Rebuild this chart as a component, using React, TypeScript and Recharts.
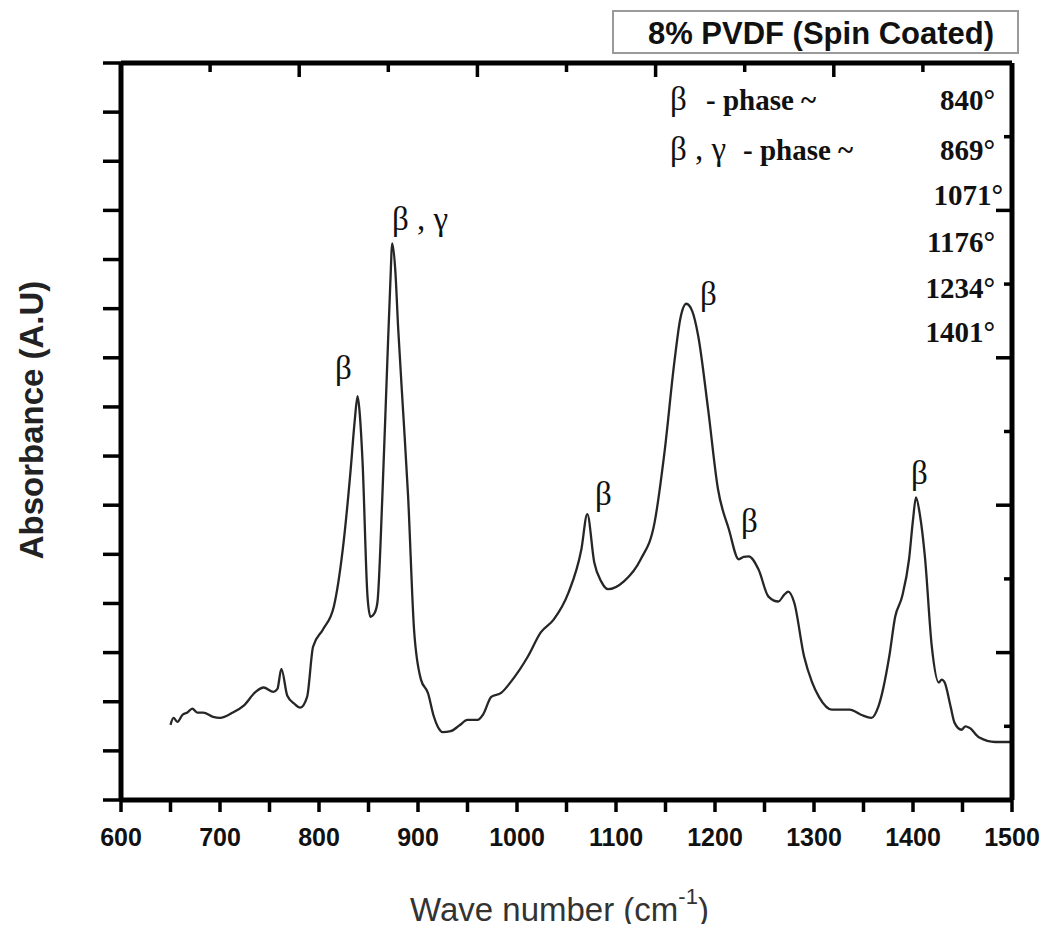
import React from 'react'
import { LineChart, Line, XAxis, YAxis } from 'recharts'

// FTIR spectrum
const waveNumber = [
  650, 653, 657, 662, 667, 672, 677, 683, 693, 700,
  713, 724, 736, 744, 754, 758, 762, 768, 775, 781,
  788, 794, 804, 815, 824, 832, 836, 839, 841, 844,
  849, 852, 856, 859, 864, 869, 872, 874, 877, 880,
  885, 890, 896, 903, 910, 916, 920, 925, 933, 942,
  950, 960, 966, 974, 984, 994, 1011, 1024, 1037, 1052,
  1065, 1071, 1078, 1085, 1092, 1108, 1125, 1139, 1149, 1159,
  1165, 1171, 1177, 1183, 1193, 1203, 1214, 1224, 1229, 1234,
  1244, 1254, 1264, 1270, 1274, 1280, 1290, 1298, 1305, 1318,
  1336, 1348, 1358, 1365, 1376, 1382, 1389, 1396, 1400, 1403,
  1407, 1412, 1419, 1426, 1429, 1432, 1438, 1442, 1449, 1453,
  1457, 1467, 1483, 1500
]

const absorbance = [
  1.53, 1.67, 1.59, 1.73, 1.78, 1.86, 1.78, 1.78, 1.69, 1.67,
  1.78, 1.92, 2.2, 2.29, 2.2, 2.26, 2.67, 2.12, 1.96, 1.88,
  2.1, 3.12, 3.47, 3.94, 5.1, 6.73, 7.7, 8.22, 7.9, 6.88,
  4.14, 3.73, 3.8, 4.02, 6.18, 8.92, 10.5, 11.33, 10.8, 9.59,
  7.9, 6.18, 3.47, 2.45, 2.18, 1.7, 1.49, 1.38, 1.4, 1.52,
  1.63, 1.63, 1.75, 2.1, 2.18, 2.41, 2.92, 3.41, 3.67, 4.22,
  5.1, 5.82, 4.84, 4.45, 4.29, 4.45, 4.9, 5.65, 7.08, 8.92,
  9.8, 10.1, 9.95, 9.45, 7.96, 6.33, 5.51, 4.9, 4.95, 4.96,
  4.69, 4.14, 4.04, 4.18, 4.24, 4.02, 2.92, 2.4, 2.1, 1.84,
  1.84, 1.73, 1.67, 1.9, 2.92, 3.73, 4.14, 4.9, 5.7, 6.16,
  5.8, 4.96, 3.12, 2.39, 2.45, 2.39, 1.9, 1.57, 1.43, 1.5,
  1.47, 1.27, 1.18, 1.18
]

const bottomTicks = [600, 650, 700, 750, 800, 850, 900, 950, 1000, 1050, 1100, 1150, 1200, 1250, 1300, 1350, 1400, 1450, 1500]
const topMajorTicks = [600, 780, 960, 1140, 1320, 1500]
const topMinorTicks = [690, 870, 1050, 1230, 1410]
const leftTicks = [0, 1, 2, 3, 4, 5, 6, 7, 8, 9, 10, 11, 12, 13, 14, 15]
const rightMajorTicks = [0, 2, 4, 6, 8, 10]
const rightMinorTicks = [1, 3, 5, 7, 9]
const peakPositions = ['840°', '869°', '1071°', '1176°', '1234°', '1401°']

const chartData = waveNumber.map((wn, i) => ({ wn, abs: absorbance[i] }))

const SANS = '"Liberation Sans", Arial, sans-serif'
const SERIF = '"Liberation Serif", "Times New Roman", serif'

const BottomTick = ({ x, y, payload }: any) =>
  payload.value % 100 === 0 ? (
    <text x={x} y={y} dy={26} textAnchor='middle' fontFamily={SANS} fontWeight='bold' fontSize={25} fill='#111'>
      {payload.value}
    </text>
  ) : (
    <g />
  )

const NoTick = () => <g />

const axisLine = { stroke: '#000', strokeWidth: 5 }
const tickLine = { stroke: '#000', strokeWidth: 3.5 }

export default function App() {
  const beta = { fontFamily: SERIF, fontSize: 33, fill: '#111' }
  const note = { fontFamily: SERIF, fontSize: 29, fontWeight: 'bold' as const, fill: '#111' }
  // right column: baseline y and right edge x for each band
  const rowY = [110, 160, 205, 252, 298, 342]
  const rowX = [995, 995, 1003, 995, 995, 995]

  return (
    <div style={{ position: 'relative', margin: -8, width: 1052, height: 932, background: '#fff' }}>
      <LineChart width={1052} height={932} data={chartData} margin={{ top: 63, right: 40, bottom: 72, left: 101 }}>
        <XAxis
          xAxisId='bottom'
          dataKey='wn'
          type='number'
          domain={[600, 1500]}
          ticks={bottomTicks}
          interval={0}
          height={60}
          axisLine={axisLine}
          tickLine={tickLine}
          tickSize={12}
          tickMargin={8}
          tick={<BottomTick />}
        />
        <XAxis
          xAxisId='topMajor'
          dataKey='wn'
          orientation='top'
          type='number'
          domain={[600, 1500]}
          allowDataOverflow
          ticks={topMajorTicks}
          interval={0}
          height={1}
          mirror
          axisLine={axisLine}
          tickLine={tickLine}
          tickSize={14}
          tick={<NoTick />}
        />
        <XAxis
          xAxisId='topMinor'
          dataKey='wn'
          orientation='top'
          type='number'
          domain={[600, 1500]}
          allowDataOverflow
          ticks={topMinorTicks}
          interval={0}
          height={1}
          mirror
          axisLine={false}
          tickLine={tickLine}
          tickSize={8}
          tick={<NoTick />}
        />
        <YAxis
          yAxisId='left'
          type='number'
          domain={[0, 15]}
          ticks={leftTicks}
          interval={0}
          width={20}
          axisLine={axisLine}
          tickLine={tickLine}
          tickSize={18}
          tick={<NoTick />}
        />
        <YAxis
          yAxisId='rightMajor'
          orientation='right'
          type='number'
          domain={[0, 10]}
          allowDataOverflow
          ticks={rightMajorTicks}
          interval={0}
          width={1}
          mirror
          axisLine={axisLine}
          tickLine={tickLine}
          tickSize={16}
          tick={<NoTick />}
        />
        <YAxis
          yAxisId='rightMinor'
          orientation='right'
          type='number'
          domain={[0, 10]}
          allowDataOverflow
          ticks={rightMinorTicks}
          interval={0}
          width={1}
          mirror
          axisLine={false}
          tickLine={tickLine}
          tickSize={7}
          tick={<NoTick />}
        />
        {/* invisible series so the frame axes (top / right) get drawn */}
        <Line xAxisId='topMajor' yAxisId='rightMajor' dataKey='abs' stroke='none' dot={false} activeDot={false} isAnimationActive={false} />
        <Line xAxisId='topMinor' yAxisId='rightMinor' dataKey='abs' stroke='none' dot={false} activeDot={false} isAnimationActive={false} />
        <Line
          xAxisId='bottom'
          yAxisId='left'
          dataKey='abs'
          type='monotone'
          stroke='#262626'
          strokeWidth={2.3}
          dot={false}
          isAnimationActive={false}
        />
      </LineChart>

      <svg width={1052} height={932} style={{ position: 'absolute', left: 0, top: 0, pointerEvents: 'none' }}>
        {/* title box */}
        <rect x={613} y={11} width={405} height={42} fill='#fff' stroke='#9a9a9a' strokeWidth={2} />
        <text x={821} y={44} textAnchor='middle' fontFamily={SANS} fontWeight='bold' fontSize={31} fill='#111'>
          8% PVDF (Spin Coated)
        </text>

        {/* axis titles */}
        <text transform='translate(43,420) rotate(-90)' textAnchor='middle' fontFamily={SANS} fontWeight='bold' fontSize={33} fill='#222'>
          Absorbance (A.U)
        </text>
        <text x={410} y={921} fontFamily={SANS} fontSize={33} fill='#333'>
          Wave number (cm
          <tspan dy={-17} fontSize={22}>-1</tspan>
          <tspan dy={17} fontSize={33}>)</tspan>
        </text>

        {/* phase legend */}
        <text x={670} y={110} {...beta}>β</text>
        <text x={706} y={110} {...note}>- phase ~</text>
        <text x={670} y={160} {...beta}>β , γ</text>
        <text x={743} y={160} {...note}>- phase ~</text>
        {peakPositions.map((p, i) => (
          <text key={p} x={rowX[i]} y={rowY[i]} textAnchor='end' {...note}>
            {p}
          </text>
        ))}

        {/* peak labels */}
        <text x={335} y={379} {...beta}>β</text>
        <text x={392} y={230} {...beta}>β , γ</text>
        <text x={595} y={505} {...beta}>β</text>
        <text x={700} y={305} {...beta}>β</text>
        <text x={741} y={532} {...beta}>β</text>
        <text x={911} y={484} {...beta}>β</text>
      </svg>
    </div>
  )
}
